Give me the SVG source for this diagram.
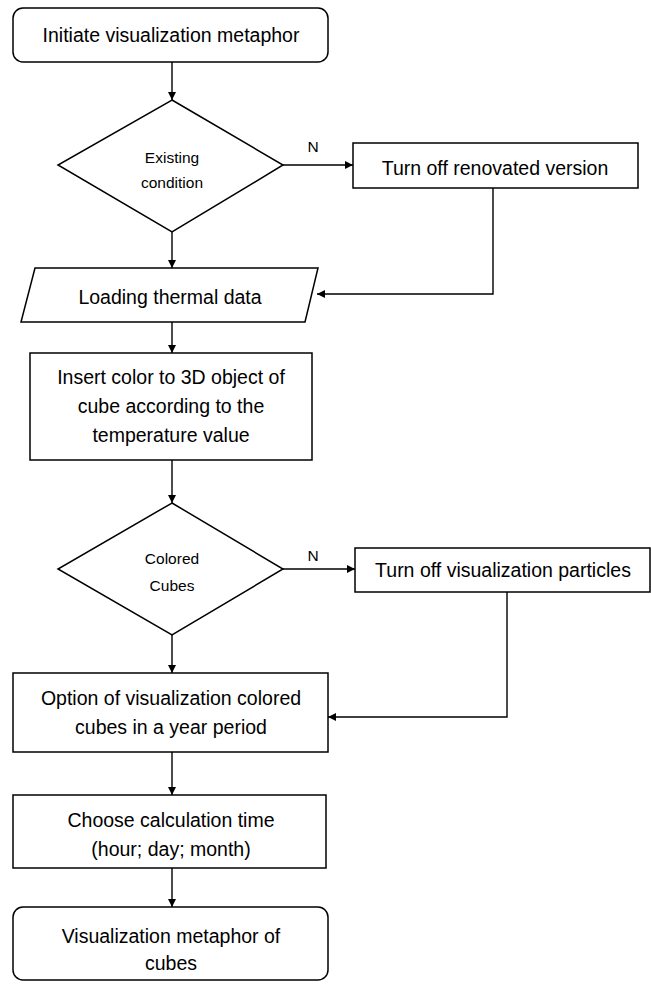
<svg xmlns="http://www.w3.org/2000/svg" width="651" height="985" viewBox="0 0 651 985">
<defs>
<marker id="ah" viewBox="0 0 10 10" refX="10" refY="5" markerWidth="8" markerHeight="8" markerUnits="userSpaceOnUse" orient="auto">
<path d="M0,0 L10,5 L0,10 z" fill="#000"/>
</marker>
<style>
.s{fill:#fff;stroke:#000;stroke-width:1.5}
.t{font-family:"Liberation Sans",Arial,sans-serif;font-size:19.5px;fill:#000;text-anchor:middle}
.d{font-family:"Liberation Sans",Arial,sans-serif;font-size:15.5px;fill:#000;text-anchor:middle}
.c{fill:none;stroke:#000;stroke-width:1.4;marker-end:url(#ah)}
</style>
</defs>
<rect width="651" height="985" fill="#fff"/>
<g id="connectors">
<path class="c" d="M172,62 V100"/>
<path class="c" d="M283,165 H353"/>
<path class="c" d="M493,188 V294 H317"/>
<path class="c" d="M172,232 V268"/>
<path class="c" d="M172,322 V353"/>
<path class="c" d="M172,460 V503"/>
<path class="c" d="M283,569 H355"/>
<path class="c" d="M507,592 V717 H328"/>
<path class="c" d="M172,635 V673"/>
<path class="c" d="M172,752 V795"/>
<path class="c" d="M172,868 V907"/>
<text class="d" x="313" y="152">N</text>
<text class="d" x="313" y="561">N</text>
</g>
<g id="start">
<rect class="s" x="13" y="8" width="315" height="54" rx="10"/>
<text class="t" x="171" y="42">Initiate visualization metaphor</text>
</g>
<g id="existing">
<path class="s" d="M172,100 L283,165 L172,232 L58,165 Z"/>
<text class="d" x="172" y="163">Existing</text>
<text class="d" x="172" y="188">condition</text>
</g>
<g id="renovated">
<rect class="s" x="353" y="143" width="285" height="45"/>
<text class="t" x="495" y="175">Turn off renovated version</text>
</g>
<g id="loading">
<path class="s" d="M35,268 L318,268 L305,322 L21,322 Z"/>
<text class="t" x="170" y="304">Loading thermal data</text>
</g>
<g id="insert">
<rect class="s" x="30" y="353" width="282" height="107"/>
<text class="t" x="171" y="384">Insert color to 3D object of</text>
<text class="t" x="171" y="413">cube according to the</text>
<text class="t" x="171" y="442">temperature value</text>
</g>
<g id="colored">
<path class="s" d="M172,503 L283,569 L172,635 L58,569 Z"/>
<text class="d" x="172" y="564">Colored</text>
<text class="d" x="172" y="591">Cubes</text>
</g>
<g id="particles">
<rect class="s" x="355" y="548" width="295" height="44"/>
<text class="t" x="503" y="577">Turn off visualization particles</text>
</g>
<g id="option">
<rect class="s" x="13" y="673" width="315" height="79"/>
<text class="t" x="171" y="705">Option of visualization colored</text>
<text class="t" x="171" y="734">cubes in a year period</text>
</g>
<g id="choose">
<rect class="s" x="13" y="795" width="313" height="73"/>
<text class="t" x="171" y="827">Choose calculation time</text>
<text class="t" x="171" y="856">(hour; day; month)</text>
</g>
<g id="end">
<rect class="s" x="13" y="907" width="315" height="73" rx="10"/>
<text class="t" x="171" y="943">Visualization metaphor of</text>
<text class="t" x="171" y="970">cubes</text>
</g>
</svg>
